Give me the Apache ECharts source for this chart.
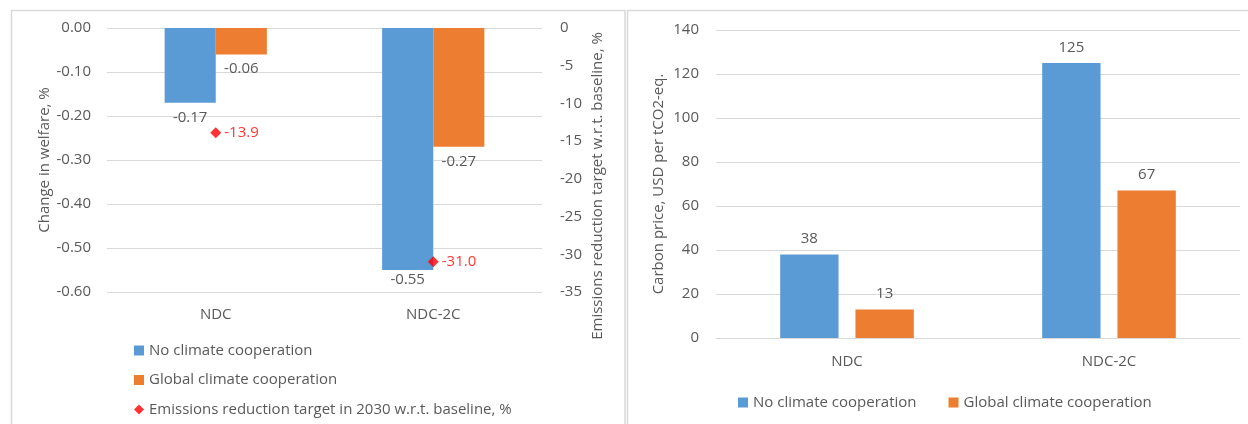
<!DOCTYPE html>
<html>
<head>
<meta charset="utf-8">
<script src="https://cdn.jsdelivr.net/npm/echarts@6/dist/echarts.min.js"></script>
<style>
  html, body { margin: 0; padding: 0; background: #ffffff; }
  #chart { width: 1248px; height: 424px; }
</style>
</head>
<body>
<div id="chart"></div>
<script>
// Scenarios shown on both panels
const scenarios = ['NDC', 'NDC-2C'];
const seriesNames = ['No climate cooperation', 'Global climate cooperation',
  'Emissions reduction target in 2030 w.r.t. baseline, %'];

// Left panel: welfare change (%) and emissions target (%)
const welfareNoCoop = [-0.17, -0.55];
const welfareGlobal = [-0.06, -0.27];
const emissionsTarget = [-13.9, -31.0];

// Right panel: carbon price (USD per tCO2-eq.)
const priceNoCoop = [38, 125];
const priceGlobal = [13, 67];

const BLUE = '#5b9bd5';
const ORANGE = '#ed7d31';
const RED = '#ff0000';
const TEXT = '#595959';
const GRID = '#d9d9d9';
const FONT = '"Open Sans", "Noto Sans", sans-serif';
const FS = 15;

const chart = echarts.init(document.getElementById('chart'), null, { renderer: 'canvas' });

const welfareLabel = {
  show: true, position: 'bottom', distance: 7,
  color: TEXT, fontFamily: FONT, fontSize: FS,
  formatter: p => p.value.toFixed(2)
};
// keep the lowest label inside the plotting area
const welfareItems = arr => arr.map(v => v < -0.5 ? { value: v, label: { distance: 2 } } : v);

const priceLabel = {
  show: true, position: 'top', distance: 8,
  color: TEXT, fontFamily: FONT, fontSize: FS
};

const option = {
  animation: false,
  textStyle: { fontFamily: FONT },
  graphic: [
    { type: 'rect', shape: { x: 11.5, y: 10.5, width: 613.5, height: 440 },
      style: { fill: 'none', stroke: GRID, lineWidth: 1.5 }, silent: true },
    { type: 'rect', shape: { x: 627.5, y: 10.5, width: 640, height: 440 },
      style: { fill: 'none', stroke: GRID, lineWidth: 1.5 }, silent: true }
  ],
  grid: [
    { left: 107, top: 28, width: 435, height: 264, outerBoundsMode: 'none', containLabel: false },
    { left: 716, top: 30, width: 524, height: 308, outerBoundsMode: 'none', containLabel: false }
  ],
  legend: [
    {
      orient: 'vertical', left: 129, top: 338, height: 120, width: 460,
      itemWidth: 10, itemHeight: 10, itemGap: 14.5,
      textStyle: { color: TEXT, fontFamily: FONT, fontSize: FS },
      data: [
        { name: seriesNames[0], icon: 'rect' },
        { name: seriesNames[1], icon: 'rect' },
        { name: seriesNames[2], icon: 'diamond' }
      ]
    },
    {
      orient: 'horizontal', left: 733, top: 390,
      itemWidth: 10, itemHeight: 10, itemGap: 32,
      textStyle: { color: TEXT, fontFamily: FONT, fontSize: FS },
      data: [
        { name: seriesNames[0], icon: 'rect' },
        { name: seriesNames[1], icon: 'rect' }
      ]
    }
  ],
  xAxis: [
    {
      type: 'category', gridIndex: 0, data: scenarios, position: 'bottom',
      axisLine: { show: false }, axisTick: { show: false },
      axisLabel: { color: TEXT, fontFamily: FONT, fontSize: FS, margin: 15 }
    },
    {
      type: 'category', gridIndex: 1, data: scenarios,
      axisLine: { show: true, lineStyle: { color: GRID, width: 1 } }, axisTick: { show: false },
      axisLabel: { color: TEXT, fontFamily: FONT, fontSize: FS, margin: 16 }
    }
  ],
  yAxis: [
    {
      type: 'value', gridIndex: 0, min: -0.6, max: 0, interval: 0.1,
      name: 'Change in welfare, %', nameLocation: 'middle', nameGap: 55, nameRotate: 90,
      nameTextStyle: { color: TEXT, fontFamily: FONT, fontSize: FS },
      axisLine: { show: false }, axisTick: { show: false },
      axisLabel: { color: TEXT, fontFamily: FONT, fontSize: FS, margin: 16,
        formatter: v => v.toFixed(2) },
      splitLine: { lineStyle: { color: GRID, width: 1 } }
    },
    {
      type: 'value', gridIndex: 0, position: 'right', min: -35, max: 0, interval: 5,
      name: 'Emissions reduction target w.r.t. baseline, %', nameLocation: 'middle',
      nameGap: 48, nameRotate: 90,
      nameTextStyle: { color: TEXT, fontFamily: FONT, fontSize: FS, padding: [0, 52, 0, 0] },
      axisLine: { show: false }, axisTick: { show: false },
      axisLabel: { color: TEXT, fontFamily: FONT, fontSize: FS, margin: 18 },
      splitLine: { show: false }
    },
    {
      type: 'value', gridIndex: 1, min: 0, max: 140, interval: 20,
      name: 'Carbon price, USD per tCO2-eq.', nameLocation: 'middle', nameGap: 50, nameRotate: 90,
      nameTextStyle: { color: TEXT, fontFamily: FONT, fontSize: FS },
      axisLine: { show: false }, axisTick: { show: false },
      axisLabel: { color: TEXT, fontFamily: FONT, fontSize: FS, margin: 17 },
      splitLine: { lineStyle: { color: GRID, width: 1 } }
    }
  ],
  series: [
    {
      name: seriesNames[0], type: 'bar', xAxisIndex: 0, yAxisIndex: 0,
      data: welfareItems(welfareNoCoop), itemStyle: { color: BLUE },
      barGap: '0%', barCategoryGap: '53%', label: welfareLabel
    },
    {
      name: seriesNames[1], type: 'bar', xAxisIndex: 0, yAxisIndex: 0,
      data: welfareItems(welfareGlobal), itemStyle: { color: ORANGE },
      barGap: '0%', barCategoryGap: '53%', label: welfareLabel
    },
    {
      name: seriesNames[2], type: 'scatter', xAxisIndex: 0, yAxisIndex: 1,
      data: emissionsTarget, symbol: 'diamond', symbolSize: [11, 11],
      itemStyle: { color: RED }, z: 5,
      label: { show: true, position: 'right', distance: 3, color: RED,
        fontFamily: FONT, fontSize: FS, formatter: p => p.value.toFixed(1) }
    },
    {
      name: seriesNames[0], type: 'bar', xAxisIndex: 1, yAxisIndex: 2,
      data: priceNoCoop, itemStyle: { color: BLUE },
      barGap: '29%', barCategoryGap: '49%', label: priceLabel
    },
    {
      name: seriesNames[1], type: 'bar', xAxisIndex: 1, yAxisIndex: 2,
      data: priceGlobal, itemStyle: { color: ORANGE },
      barGap: '29%', barCategoryGap: '49%', label: priceLabel
    }
  ]
};

chart.setOption(option);
</script>
</body>
</html>
